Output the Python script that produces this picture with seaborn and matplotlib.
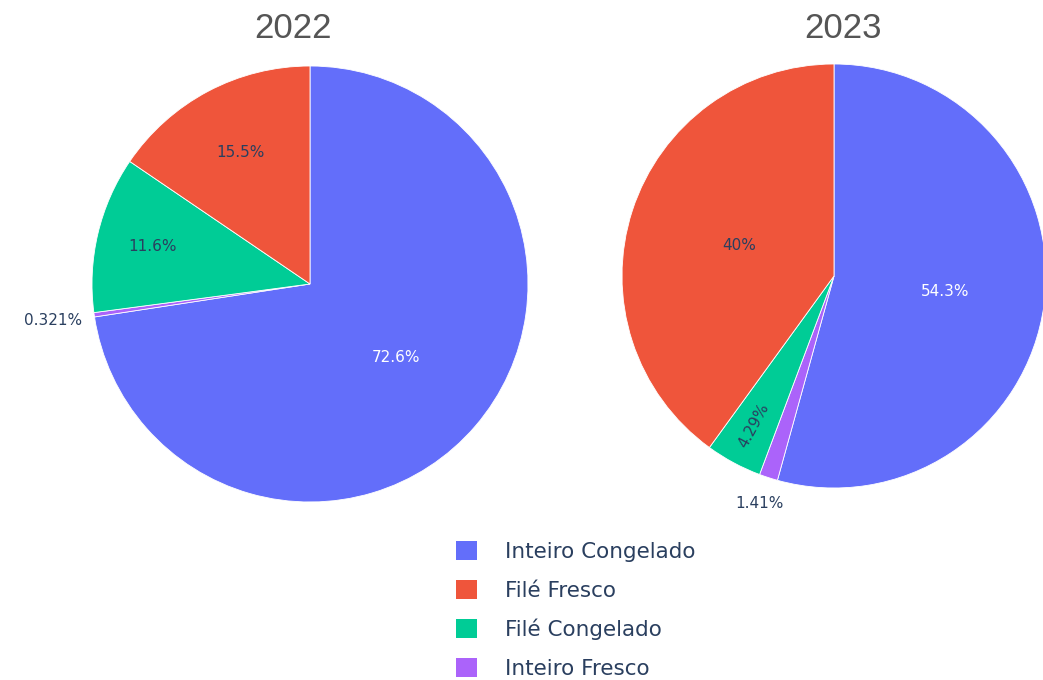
import matplotlib.pyplot as plt
from matplotlib.patches import Patch
import seaborn as sns
import numpy as np

sns.set_theme(style='white')
plt.rcParams['font.family'] = ['DejaVu Sans']

# --- Dati ---
categorie = ['Inteiro Congelado', 'Filé Fresco', 'Filé Congelado', 'Inteiro Fresco']
colori = sns.color_palette(['#636efa', '#EF553B', '#00cc96', '#ab63fa'])
anni = ['2022', '2023']
valori_2022 = [72.6, 15.5, 11.6, 0.321]
valori_2023 = [54.3, 40.0, 4.29, 1.41]
etichette_2022 = ['72.6%', '15.5%', '11.6%', '0.321%']
etichette_2023 = ['54.3%', '40%', '4.29%', '1.41%']

# ordine delle fette in senso orario dalle 12: blu, viola, verde, rosso
ordine = [0, 3, 2, 1]

W, H = 1043, 680
fig = plt.figure(figsize=(W / 100, H / 100), dpi=100)


def pie_axes(cx, cy, r):
    return fig.add_axes([(cx - r) / W, (H - cy - r) / H, 2 * r / W, 2 * r / H])


def disegna(ax, valori, etichette, dist, rot):
    v = [valori[i] for i in ordine]
    c = [colori[i] for i in ordine]
    wedges, _ = ax.pie(v, colors=c, startangle=90, counterclock=False, radius=1,
                       wedgeprops=dict(linewidth=0.6, edgecolor='white'))
    ax.set_xlim(-1, 1)
    ax.set_ylim(-1, 1)
    ax.set_aspect('equal')
    for k, w in enumerate(wedges):
        i = ordine[k]
        ang = np.deg2rad((w.theta1 + w.theta2) / 2)
        d = dist[i]
        col = 'white' if i == 0 else '#2a3f5f'
        ax.text(d * np.cos(ang), d * np.sin(ang), etichette[i], ha='center', va='center',
                fontsize=11, color=col, rotation=rot[i], rotation_mode='anchor')


ax1 = pie_axes(310, 284, 218)
disegna(ax1, valori_2022, etichette_2022, dist=[0.52, 0.68, 0.74, 1.19], rot=[0, 0, 0, 0])

ax2 = pie_axes(834, 276, 212)
disegna(ax2, valori_2023, etichette_2023, dist=[0.53, 0.47, 0.80, 1.13], rot=[0, 0, 61.7, 0])

# Titoli
for anno, x in zip(anni, [293, 843]):
    fig.text(x / W, 1 - 28 / H, anno, ha='center', va='center', fontsize=25,
             color='#555555', family='Liberation Sans')

# Legenda
handles = [Patch(facecolor=c, edgecolor='none') for c in colori]
fig.legend(handles, categorie, loc='upper left', bbox_to_anchor=(445 / W, 1 - 530 / H),
           frameon=False, fontsize=15.5, handlelength=1.0, handleheight=1.0,
           handletextpad=1.3, labelspacing=0.83, borderpad=0, labelcolor='#2a3f5f')

fig.savefig('out.png', dpi=100)
